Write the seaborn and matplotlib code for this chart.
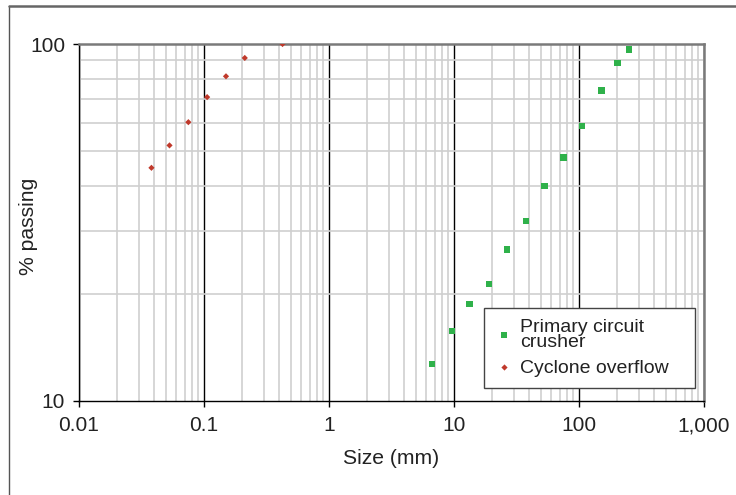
import matplotlib
matplotlib.use("Agg")
import matplotlib.pyplot as plt
from matplotlib.lines import Line2D
from matplotlib.ticker import FixedLocator, LogLocator, NullFormatter
import pandas as pd
import seaborn as sns

# Particle size distributions
crusher_size = [6.7, 9.6, 13.3, 19.1, 26.5, 37.7, 53.2, 75.5, 106, 152, 204, 251]
crusher_pass = [12.7, 15.7, 18.7, 21.3, 26.6, 31.9, 40.0, 48.1, 58.9, 74.0, 88.6, 96.4]

cyclone_size = [0.038, 0.053, 0.075, 0.106, 0.15, 0.212, 0.425]
cyclone_pass = [45.0, 52.0, 60.4, 71.0, 81.2, 91.4, 100.0]

x_ticks = [0.01, 0.1, 1, 10, 100, 1000]
x_tick_labels = ["0.01", "0.1", "1", "10", "100", "1,000"]
y_ticks = [10, 100]
y_tick_labels = ["10", "100"]

series_names = ["Primary circuit\ncrusher", "Cyclone overflow"]


def make_plot():
    sns.set_style("white")
    plt.rcParams["font.family"] = ["Liberation Sans", "DejaVu Sans"]

    df = pd.concat(
        [
            pd.DataFrame({"size": crusher_size, "passing": crusher_pass,
                          "series": series_names[0]}),
            pd.DataFrame({"size": cyclone_size, "passing": cyclone_pass,
                          "series": series_names[1]}),
        ],
        ignore_index=True,
    )

    fig = plt.figure(figsize=(7.36, 4.95), dpi=100)
    ax = fig.add_axes([0.1073, 0.1899, 0.8492, 0.7212])

    sns.scatterplot(
        data=df, x="size", y="passing", hue="series", style="series",
        palette={series_names[0]: "#2fb14a", series_names[1]: "#c0392b"},
        markers={series_names[0]: "s", series_names[1]: "D"},
        size="series", sizes={series_names[0]: 22, series_names[1]: 10},
        linewidth=0, ax=ax, zorder=5,
    )

    ax.set_xscale("log")
    ax.set_yscale("log")
    ax.set_xlim(0.01, 1000)
    ax.set_ylim(10, 100)

    # grid: light minor lines, black major verticals
    ax.xaxis.set_minor_locator(LogLocator(base=10, subs=range(2, 10)))
    ax.yaxis.set_minor_locator(LogLocator(base=10, subs=range(2, 10)))
    ax.xaxis.set_minor_formatter(NullFormatter())
    ax.yaxis.set_minor_formatter(NullFormatter())
    ax.grid(which="minor", color="#cfcfcf", linewidth=1.2)
    ax.grid(which="major", axis="x", color="black", linewidth=1.0)
    ax.set_axisbelow(True)

    ax.xaxis.set_major_locator(FixedLocator(x_ticks))
    ax.yaxis.set_major_locator(FixedLocator(y_ticks))
    ax.set_xticklabels(x_tick_labels)
    ax.set_yticklabels(y_tick_labels)
    ax.tick_params(which="major", length=4, width=1, color="black",
                   labelsize=15, labelcolor="#222222", pad=6,
                   bottom=True, left=True)
    ax.tick_params(axis="x", which="major", pad=7)
    ax.tick_params(which="minor", length=0)

    for side in ["left", "bottom"]:
        ax.spines[side].set_color("black")
        ax.spines[side].set_linewidth(1.0)
    for side in ["top", "right"]:
        ax.spines[side].set_visible(True)
        ax.spines[side].set_color("#7a7a7a")
        ax.spines[side].set_linewidth(1.8)

    ax.set_xlabel("Size (mm)", fontsize=15.2, color="#222222")
    ax.set_ylabel("% passing", fontsize=15.2, color="#222222")
    ax.xaxis.set_label_coords(0.5, -0.135)
    ax.yaxis.set_label_coords(-0.065, 0.49)

    leg = ax.legend(
        loc="lower left", bbox_to_anchor=(0.648, 0.036, 0.3376, 0.2),
        mode="expand", frameon=True,
        fancybox=False, framealpha=1, edgecolor="#444444", fontsize=14,
        borderpad=0.55, handletextpad=0.3, labelspacing=0.45,
        handlelength=1.0, borderaxespad=0,
    )
    leg.get_frame().set_linewidth(1.0)
    for t in leg.get_texts():
        t.set_linespacing(0.85)
        t.set_color("#222222")

    # outer frame around the figure (left and top edges visible)
    fig.add_artist(Line2D([0.0122, 0.0122], [0.0, 0.9879], color="#555555",
                          linewidth=1.0, transform=fig.transFigure))
    fig.add_artist(Line2D([0.0122, 1.0], [0.9879, 0.9879], color="#666666",
                          linewidth=1.8, transform=fig.transFigure))

    fig.savefig("out.png", dpi=100)


if __name__ == "__main__":
    make_plot()
